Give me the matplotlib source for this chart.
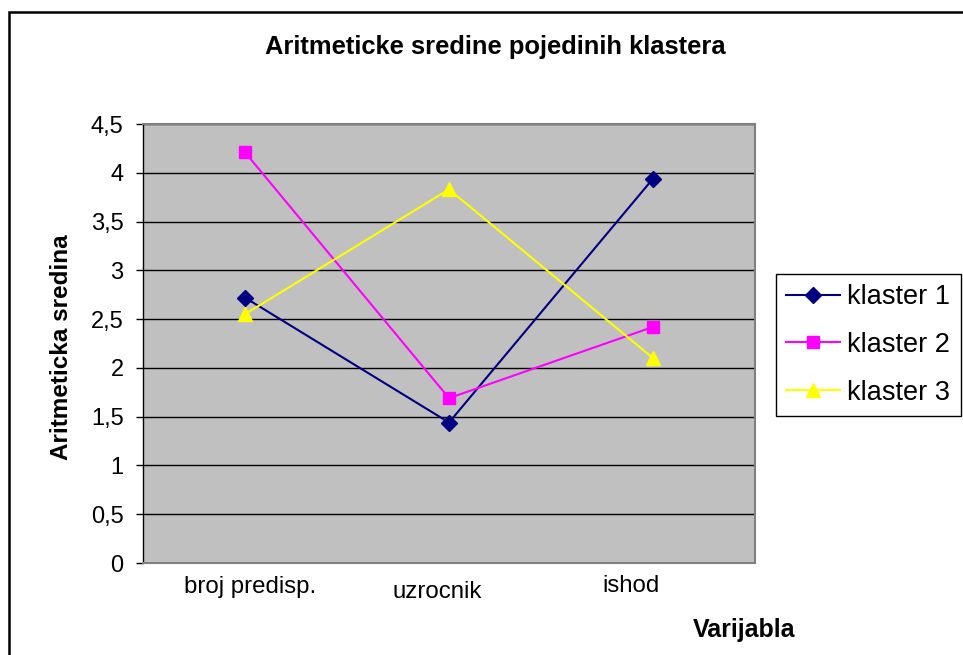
import matplotlib
matplotlib.use("Agg")
import matplotlib.pyplot as plt
from matplotlib.patches import Rectangle
from matplotlib.transforms import ScaledTranslation

plt.rcParams["font.family"] = ["Liberation Sans", "DejaVu Sans"]

categories = ["broj predisp.", "uzrocnik", "ishod"]
klaster_1 = [2.72, 1.44, 3.94]
klaster_2 = [4.21, 1.69, 2.42]
klaster_3 = [2.55, 3.83, 2.10]
y_ticks = [0, 0.5, 1, 1.5, 2, 2.5, 3, 3.5, 4, 4.5]
y_tick_labels = ["0", "0,5", "1", "1,5", "2", "2,5", "3", "3,5", "4", "4,5"]

W, H = 963, 655
fig = plt.figure(figsize=(W / 100, H / 100), dpi=100)
fig.patch.set_facecolor("white")

# outer chart border (runs off right and bottom of the image)
fig.add_artist(Rectangle((9 / W, -0.2), 1.2, 1.2 - 12 / H, transform=fig.transFigure,
                         fill=False, edgecolor="black", linewidth=1.8))

ax = fig.add_axes([143 / W, 1 - 563 / H, (755 - 143) / W, (563 - 124) / H])
ax.set_facecolor("#C0C0C0")

x = list(range(len(categories)))
ax.plot(x, klaster_1, color="#000080", marker="D", markersize=8, linewidth=1.5, label="klaster 1", zorder=3)
ax.plot(x, klaster_2, color="#FF00FF", marker="s", markersize=8.5, linewidth=1.5, label="klaster 2", zorder=3)
ax.plot(x, klaster_3, color="#FFFF00", marker="^", markersize=10, linewidth=1.5, label="klaster 3", zorder=3)

ax.set_xlim(-0.5, 2.5)
ax.set_ylim(0, 4.5)
ax.set_yticks(y_ticks)
ax.set_yticklabels(y_tick_labels, fontsize=17)
ax.yaxis.grid(True, color="black", linewidth=1.0)
ax.set_axisbelow(True)
ax.tick_params(axis="y", direction="out", length=5, width=1, pad=9, colors="black")

ax.set_xticks(x)
ax.set_xticklabels(categories, fontsize=17.3)
ax.tick_params(axis="x", length=0, pad=9)
offsets = [(5, 0), (-12, -6), (-22, 0)]
for lab, (dx, dy) in zip(ax.get_xticklabels(), offsets):
    lab.set_transform(lab.get_transform() + ScaledTranslation(dx / 100, dy / 100, fig.dpi_scale_trans))

for side in ["top", "right", "bottom"]:
    ax.spines[side].set_color("#808080")
    ax.spines[side].set_linewidth(1.5)
ax.spines["left"].set_color("black")
ax.spines["left"].set_linewidth(1.0)

fig.text(495 / W, 1 - 47 / H, "Aritmeticke sredine pojedinih klastera",
         ha="center", va="center", fontsize=18.4, fontweight="bold")
fig.text(62 / W, 1 - 347 / H, "Aritmeticka sredina", rotation=90,
         ha="center", va="center", fontsize=17.5, fontweight="bold")
fig.text(744 / W, 1 - 630 / H, "Varijabla", ha="center", va="center",
         fontsize=18, fontweight="bold")

leg = ax.legend(loc="upper left", bbox_to_anchor=(776 / W, 1 - 274 / H),
                bbox_transform=fig.transFigure, borderaxespad=0, fontsize=19.5,
                fancybox=False, edgecolor="black", framealpha=1, facecolor="white",
                handlelength=2.0, handletextpad=0.25, labelspacing=0.8, borderpad=0.38)
leg.get_frame().set_linewidth(1.0)

fig.savefig("out.png", dpi=100)
